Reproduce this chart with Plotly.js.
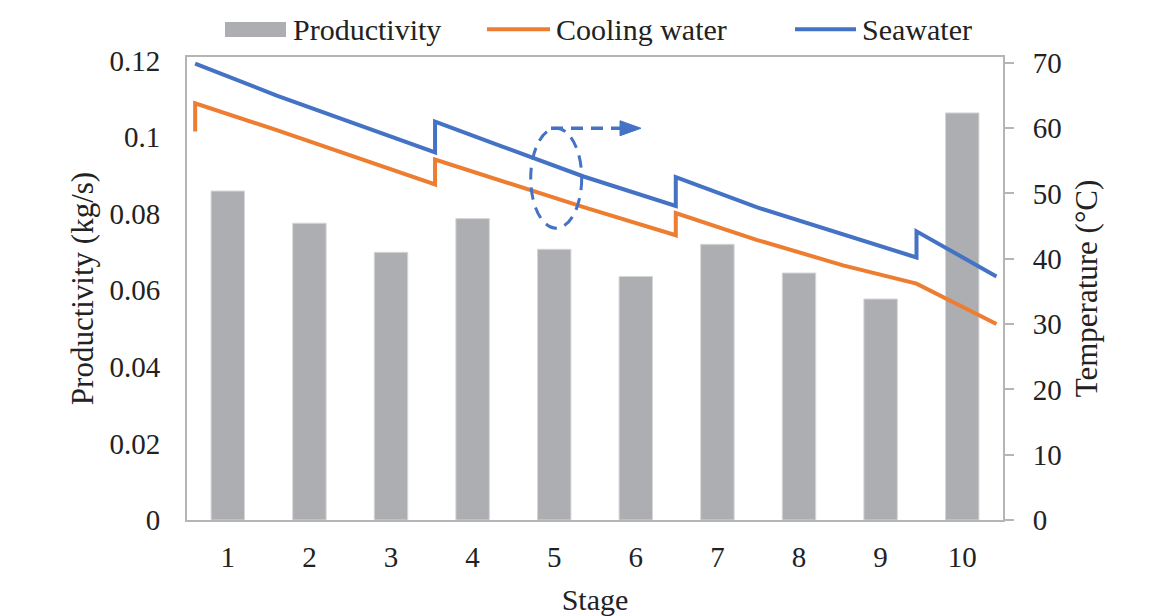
<!DOCTYPE html>
<html>
<head>
<meta charset="utf-8">
<script src="https://cdn.plot.ly/plotly-3.0.1.min.js"></script>
<style>
html,body{margin:0;padding:0;background:#fff;}
#chart{width:1166px;height:616px;}
</style>
</head>
<body>
<div id="chart"></div>
<script>
// ---- data ----
var stages = [1, 2, 3, 4, 5, 6, 7, 8, 9, 10];
var productivity = [0.0859, 0.0775, 0.0699, 0.0787, 0.0707, 0.0636, 0.0720, 0.0645, 0.0577, 0.1063];

var seawaterX = [0.6, 1.6, 3.54, 3.54, 4.34, 5.36, 6.49, 6.49, 7.48, 8.54, 9.44, 9.44, 10.42];
var seawaterT = [69.9, 65.0, 56.3, 61.0, 57.3, 52.6, 48.1, 52.5, 47.9, 43.8, 40.2, 44.2, 37.3];

var coolingX = [0.6, 0.6, 1.6, 3.54, 3.54, 4.34, 5.36, 6.49, 6.49, 7.48, 8.54, 9.44, 10.42];
var coolingT = [59.5, 63.8, 59.7, 51.4, 55.2, 52.0, 47.9, 43.6, 47.0, 42.9, 39.0, 36.2, 30.0];

var leftTickVals = [0, 0.02, 0.04, 0.06, 0.08, 0.1, 0.12];
var leftTickText = ['0', '0.02', '0.04', '0.06', '0.08', '0.1', '0.12'];
var rightTickVals = [0, 10, 20, 30, 40, 50, 60, 70];
var seriesNames = ['Productivity', 'Cooling water', 'Seawater'];

// ---- styles ----
var FONT = 'Liberation Serif, Times New Roman, serif';
var TXT = '#222222';
var AX = '#b5b5b5';
var GRAY = '#adaeb1';
var ORANGE = '#ed7d31';
var BLUE = '#4472c4';

var traces = [
  {type: 'bar', x: stages, y: productivity, name: seriesNames[0], width: 0.41,
   marker: {color: GRAY, line: {color: '#d6d6d6', width: 1}}, showlegend: false, yaxis: 'y'},
  {type: 'scatter', mode: 'lines', x: coolingX, y: coolingT, name: seriesNames[1],
   line: {color: ORANGE, width: 4}, showlegend: false, yaxis: 'y2'},
  {type: 'scatter', mode: 'lines', x: seawaterX, y: seawaterT, name: seriesNames[2],
   line: {color: BLUE, width: 4}, showlegend: false, yaxis: 'y2'}
];

// paper coordinate helpers (plot area 187..1003 x, 56.7..520 y)
function px(x){ return (x - 187) / 816; }
function py(y){ return (520 - y) / 463.3; }

var shapes = [
  // legend swatches
  {type: 'rect', xref: 'paper', yref: 'paper', x0: px(225), x1: px(286), y0: py(36.7), y1: py(21.7),
   fillcolor: GRAY, line: {width: 0}},
  {type: 'line', xref: 'paper', yref: 'paper', x0: px(487), x1: px(550), y0: py(29), y1: py(29),
   line: {color: ORANGE, width: 4}},
  {type: 'line', xref: 'paper', yref: 'paper', x0: px(795), x1: px(856), y0: py(29), y1: py(29),
   line: {color: BLUE, width: 4}},
  // dashed ellipse and arrow
  {type: 'circle', xref: 'paper', yref: 'paper', x0: px(530.7), x1: px(581.7), y0: py(228), y1: py(128),
   line: {color: BLUE, width: 3, dash: '12px,8px'}},
  {type: 'line', xref: 'paper', yref: 'paper', x0: px(551), x1: px(622), y0: py(128), y1: py(128),
   line: {color: BLUE, width: 3.5, dash: '12px,8px'}},
  {type: 'path', xref: 'paper', yref: 'paper',
   path: 'M ' + px(620) + ' ' + py(120.5) + ' L ' + px(641) + ' ' + py(128) + ' L ' + px(620) + ' ' + py(135.5) + ' Z',
   fillcolor: BLUE, line: {color: BLUE, width: 1}}
];

var annotations = [
  {xref: 'paper', yref: 'paper', x: px(291), y: py(29), xanchor: 'left', yanchor: 'middle',
   text: seriesNames[0], showarrow: false, font: {family: FONT, size: 30, color: TXT}},
  {xref: 'paper', yref: 'paper', x: px(554), y: py(29), xanchor: 'left', yanchor: 'middle',
   text: seriesNames[1], showarrow: false, font: {family: FONT, size: 30, color: TXT}},
  {xref: 'paper', yref: 'paper', x: px(860), y: py(29), xanchor: 'left', yanchor: 'middle',
   text: seriesNames[2], showarrow: false, font: {family: FONT, size: 30, color: TXT}}
];

var layout = {
  width: 1166, height: 616,
  margin: {l: 187, r: 163, t: 57, b: 96, pad: 0},
  paper_bgcolor: '#ffffff', plot_bgcolor: '#ffffff',
  font: {family: FONT, size: 29, color: TXT},
  showlegend: false,
  bargap: 0.59,
  xaxis: {
    range: [0.5, 10.5], tickvals: stages, ticktext: stages.map(String),
    showline: true, linecolor: AX, linewidth: 2, mirror: true,
    ticks: '', showgrid: false, zeroline: false, ticklabelstandoff: 10,
    tickfont: {family: FONT, size: 29, color: TXT},
    title: {text: 'Stage', font: {family: FONT, size: 30, color: TXT}, standoff: 22}
  },
  yaxis: {
    range: [0, 0.1209], tickvals: leftTickVals, ticktext: leftTickText,
    showline: true, linecolor: AX, linewidth: 2, mirror: true,
    ticks: '', showgrid: false, zeroline: false, ticklabelstandoff: 19,
    tickfont: {family: FONT, size: 29, color: TXT},
    title: {text: 'Productivity (kg/s)', font: {family: FONT, size: 31, color: TXT}, standoff: 7}
  },
  // right axis: labels pushed out with an invisible long tick
  yaxis2: {
    overlaying: 'y', side: 'right', range: [0, 70.9], tickvals: rightTickVals,
    showline: true, linecolor: AX, linewidth: 2,
    ticks: 'outside', ticklen: 22, tickwidth: 2, tickcolor: 'rgba(0,0,0,0)',
    showgrid: false, zeroline: false,
    tickfont: {family: FONT, size: 29, color: TXT},
    title: {text: 'Temperature (°C)', font: {family: FONT, size: 31, color: TXT}, standoff: 15}
  },
  // visible short tick marks of the right axis
  yaxis3: {
    overlaying: 'y', side: 'right', range: [0, 70.9], tickvals: rightTickVals,
    showline: false, ticks: 'outside', ticklen: 10, tickwidth: 2, tickcolor: AX,
    showticklabels: false, showgrid: false, zeroline: false
  },
  shapes: shapes,
  annotations: annotations
};

// anchor a dummy invisible trace to yaxis3 so it is drawn
traces.push({type: 'scatter', mode: 'none', x: [], y: [], yaxis: 'y3', showlegend: false, hoverinfo: 'skip'});

Plotly.newPlot('chart', traces, layout, {displayModeBar: false, staticPlot: true});
</script>
</body>
</html>
